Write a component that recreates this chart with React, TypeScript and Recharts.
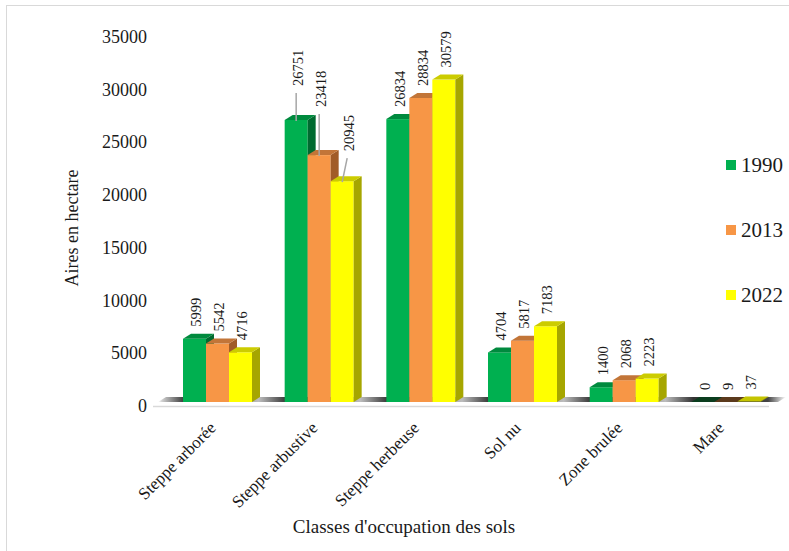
import { BarChart, Bar, XAxis, YAxis, LabelList } from "recharts";

const categories = ["Steppe arborée", "Steppe arbustive", "Steppe herbeuse", "Sol nu", "Zone brulée", "Mare"];
const values1990 = [5999, 26751, 26834, 4704, 1400, 0];
const values2013 = [5542, 23418, 28834, 5817, 2068, 9];
const values2022 = [4716, 20945, 30579, 7183, 2223, 37];
const yTicks = [0, 5000, 10000, 15000, 20000, 25000, 30000, 35000];
const seriesNames = ["1990", "2013", "2022"];

const data = categories.map((name, i) => ({
  name,
  "1990": values1990[i],
  "2013": values2013[i],
  "2022": values2022[i],
}));

const SERIF = "Liberation Serif, DejaVu Serif, serif";
const INK = "#1a1a1a";

// frame of the plot (pixels)
const W = 789;
const H = 551;
const PLOT_LEFT = 166;
const PLOT_RIGHT = 776;
const PLOT_TOP = 33;
const PLOT_BOTTOM = 402;
const CAT_GAP = 17;
const DEPTH_X = 8;
const DEPTH_Y = 5;

const palette: Record<string, { front: string; top: string; side: string; flat: string }> = {
  "1990": { front: "#00B050", top: "#008A3E", side: "#006A30", flat: "#0B3D1E" },
  "2013": { front: "#F79646", top: "#C27538", side: "#A15C28", flat: "#5B3A1C" },
  "2022": { front: "#FFFF00", top: "#CCCC00", side: "#A6A600", flat: "#C4C400" },
};

// labels that Excel pushed up with a leader line
const leaderLabels: Record<string, { lift: number; shift: number }> = {
  "Steppe arbustive|1990": { lift: 22, shift: 0 },
  "Steppe arbustive|2013": { lift: 36, shift: 0 },
  "Steppe arbustive|2022": { lift: 18, shift: 5 },
};

const bar3D = (key: string) => (props: any) => {
  const { x, y, width, height } = props;
  const c = palette[key];
  const flat = height < 1.5;
  const r = x + width;
  const b = y + height;
  return (
    <g>
      {!flat && <rect x={x} y={y} width={width} height={height} fill={c.front} />}
      <polygon
        points={`${r},${y} ${r + DEPTH_X},${y - DEPTH_Y} ${r + DEPTH_X},${b - DEPTH_Y} ${r},${b}`}
        fill={c.side}
      />
      <polygon
        points={`${x},${y} ${x + DEPTH_X},${y - DEPTH_Y} ${r + DEPTH_X},${y - DEPTH_Y} ${r},${y}`}
        fill={flat ? c.flat : c.top}
      />
    </g>
  );
};

const valueLabel = (key: string) => (props: any) => {
  const box = props.viewBox ?? props;
  const x = Number(props.x ?? box.x);
  const y = Number(props.y ?? box.y);
  const width = Number(props.width ?? box.width);
  const cat = categories[props.index];
  const adj = leaderLabels[`${cat}|${key}`] ?? { lift: 0, shift: 0 };
  const cx = x + width / 2;
  const lx = cx + 2 + adj.shift;
  const ly = y - DEPTH_Y - 7 - adj.lift;
  return (
    <g>
      {adj.lift > 0 && (
        <line x1={lx - 2} y1={ly + 7} x2={cx} y2={y + 1} stroke="#a6a6a6" strokeWidth={1.5} />
      )}
      <text
        x={lx}
        y={ly}
        transform={`rotate(-90, ${lx}, ${ly})`}
        textAnchor="start"
        dominantBaseline="central"
        fontFamily={SERIF}
        fontSize={14.5}
        fill={INK}
      >
        {props.value}
      </text>
    </g>
  );
};

function Floor() {
  const band = (PLOT_RIGHT - PLOT_LEFT) / categories.length;
  const x0 = PLOT_LEFT - 8;
  const x1 = PLOT_RIGHT + 2;
  const span = x1 + DEPTH_X - x0;
  const pct = (v: number) => `${Math.max(0, Math.min(100, ((v - x0) / span) * 100))}%`;
  const stops: { o: string; c: string }[] = [{ o: "0%", c: "#ffffff" }];
  categories.forEach((_, i) => {
    const groupStart = PLOT_LEFT + i * band + CAT_GAP;
    const prevEnd = i === 0 ? x0 + 4 : PLOT_LEFT + i * band - CAT_GAP + DEPTH_X;
    stops.push({ o: pct(prevEnd), c: i === 0 ? "#d0d0d0" : "#bdbdbd" });
    stops.push({ o: pct(groupStart + 2), c: "#333333" });
  });
  stops.push({ o: pct(PLOT_RIGHT - CAT_GAP + DEPTH_X + 1), c: "#444444" });
  stops.push({ o: "100%", c: "#ffffff" });
  return (
    <g>
      <defs>
        <linearGradient id="floorGrad" gradientUnits="userSpaceOnUse" x1={x0} x2={x0 + span} y1={0} y2={0}>
          {stops.map((s, i) => (
            <stop key={i} offset={s.o} stopColor={s.c} />
          ))}
        </linearGradient>
      </defs>
      <polygon
        points={`${x0},${PLOT_BOTTOM} ${x1},${PLOT_BOTTOM} ${x1 + DEPTH_X},${PLOT_BOTTOM - DEPTH_Y} ${x0 + DEPTH_X},${PLOT_BOTTOM - DEPTH_Y}`}
        fill="url(#floorGrad)"
      />
      <line x1={153} x2={769} y1={PLOT_BOTTOM + 4.5} y2={PLOT_BOTTOM + 4.5} stroke="#d9d9d9" strokeWidth={1.5} />
      <text
        x={72}
        y={228}
        transform="rotate(-90, 72, 228)"
        textAnchor="middle"
        dominantBaseline="central"
        fontFamily={SERIF}
        fontSize={18}
        fill={INK}
      >
        Aires en hectare
      </text>
      <text x={404} y={533} textAnchor="middle" fontFamily={SERIF} fontSize={19} fill={INK}>
        Classes d'occupation des sols
      </text>
    </g>
  );
}

const CategoryTick = (props: any) => {
  const { x, y, payload } = props;
  const px = x;
  const py = y + 27;
  return (
    <text
      x={px}
      y={py}
      transform={`rotate(-45, ${px}, ${py})`}
      textAnchor="end"
      fontFamily={SERIF}
      fontSize={17}
      fill={INK}
    >
      {payload.value}
    </text>
  );
};

const ValueTick = (props: any) => {
  const { x, y, payload } = props;
  return (
    <text x={x} y={y + 4} textAnchor="end" dominantBaseline="central" fontFamily={SERIF} fontSize={18} fill={INK}>
      {payload.value}
    </text>
  );
};

export default function App() {
  return (
    <div style={{ position: "absolute", left: 0, top: 0, width: W, height: H, background: "#fff", overflow: "hidden" }}>
      <div
        style={{
          position: "absolute",
          left: 6,
          top: 5,
          width: W,
          height: H,
          borderTop: "1px solid #d9d9d9",
          borderLeft: "1px solid #d9d9d9",
        }}
      />
      <BarChart
        width={W}
        height={H}
        data={data}
        margin={{ top: PLOT_TOP, right: W - PLOT_RIGHT, bottom: 29, left: 0 }}
        barCategoryGap={CAT_GAP}
        barGap={0}
        style={{ position: "absolute", left: 0, top: 0 }}
      >
        <Floor />
        <XAxis
          dataKey="name"
          height={H - 29 - PLOT_BOTTOM}
          axisLine={false}
          tickLine={false}
          tickSize={0}
          tickMargin={0}
          interval={0}
          tick={<CategoryTick />}
        />
        <YAxis
          width={PLOT_LEFT}
          domain={[0, 35000]}
          ticks={yTicks}
          axisLine={false}
          tickLine={false}
          tickSize={0}
          tickMargin={19}
          tick={<ValueTick />}
        />
        {seriesNames.map((s) => (
          <Bar key={s} dataKey={s} fill={palette[s].front} shape={bar3D(s)} isAnimationActive={false}>
            <LabelList dataKey={s} content={valueLabel(s)} />
          </Bar>
        ))}
      </BarChart>
      <div style={{ position: "absolute", left: 726, top: 150, fontFamily: SERIF, fontSize: 21, color: INK }}>
        {seriesNames.map((s) => (
          <div key={s} style={{ display: "flex", alignItems: "center", height: 30, lineHeight: "30px", marginBottom: 35 }}>
            <span style={{ display: "inline-block", width: 10, height: 10, background: palette[s].front, marginRight: 5 }} />
            <span>{s}</span>
          </div>
        ))}
      </div>
    </div>
  );
}
